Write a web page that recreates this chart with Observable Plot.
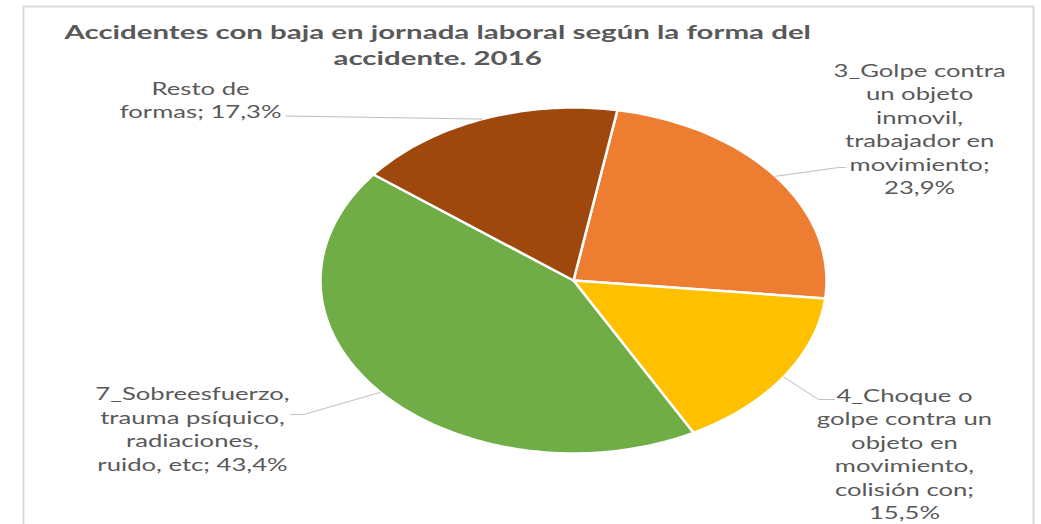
<!DOCTYPE html>
<html>
<head>
<meta charset="utf-8">
<script src="https://cdn.jsdelivr.net/npm/d3@7"></script>
<script src="https://cdn.jsdelivr.net/npm/@observablehq/plot@0.6"></script>
<style>
  html, body { margin: 0; padding: 0; background: #ffffff; overflow: hidden; }
</style>
</head>
<body>
<div id="chart"></div>
<script>
// ---- data ----
const titleText = "Accidentes con baja en jornada laboral según la forma del\naccidente. 2016";
const categories = [
  "3_Golpe contra\nun objeto\ninmovil,\ntrabajador en\nmovimiento",
  "4_Choque o\ngolpe contra un\nobjeto en\nmovimiento,\ncolisión con",
  "7_Sobreesfuerzo,\ntrauma psíquico,\nradiaciones,\nruido, etc",
  "Resto de\nformas"
];
const shares = [23.9, 15.5, 43.4, 17.3];
const valueSeparators = ["\n", "\n", " ", " "];
const colors = ["#ED7D31", "#FFC000", "#70AD47", "#9E480E"];

// ---- layout (in the pie's own data units: radius = 1) ----
const firstSliceAngle = 10; // degrees, clockwise from 12 o'clock
const labelLayout = [
  {tx: 1.368, ty: 0.882, ex: 1.047, ey: 0.653, lx: 1.075, ly: 0.653},
  {tx: 1.308, ty: -0.997, ex: 0.968, ey: -0.688, lx: 1.032, ly: -0.688},
  {tx: -1.506, ty: -0.853, ex: -1.067, ey: -0.775, lx: -1.119, ly: -0.775},
  {tx: -1.474, ty: 1.049, ex: -1.138, ey: 0.951, lx: -1.138, ly: 0.951}
];
const titlePos = {x: -0.538, y: 1.368};
const labelStretch = 1.51;
const titleStretch = 1.55;

// ---- build geometry from data ----
const fmt = v => v.toFixed(1).replace(".", ",") + "%";
const a0 = firstSliceAngle * Math.PI / 180;
const arcs = d3.pie().sort(null).startAngle(a0).endAngle(a0 + 2 * Math.PI)(shares);

const slicePts = [];
arcs.forEach((arc, i) => {
  const n = Math.max(8, Math.ceil((arc.endAngle - arc.startAngle) / (2 * Math.PI) * 360));
  slicePts.push({slice: categories[i], x: 0, y: 0});
  for (let k = 0; k <= n; ++k) {
    const a = arc.startAngle + (arc.endAngle - arc.startAngle) * k / n;
    slicePts.push({slice: categories[i], x: Math.sin(a), y: Math.cos(a)});
  }
  slicePts.push({slice: categories[i], x: 0, y: 0});
});

const leaderPts = [];
const labels = [];
arcs.forEach((arc, i) => {
  const m = (arc.startAngle + arc.endAngle) / 2;
  const L = labelLayout[i];
  leaderPts.push({k: i, x: Math.sin(m), y: Math.cos(m)});
  leaderPts.push({k: i, x: L.ex, y: L.ey});
  leaderPts.push({k: i, x: L.lx, y: L.ly});
  labels.push({x: L.tx, y: L.ty, text: categories[i] + ";" + valueSeparators[i] + fmt(shares[i])});
});

const chart = Plot.plot({
  width: 1041,
  height: 524,
  marginLeft: 23,
  marginRight: 8,
  marginTop: 6,
  marginBottom: 0,
  style: {fontFamily: "Lato, 'Open Sans', sans-serif", background: "#ffffff"},
  x: {domain: [-1, 1], range: [320, 826], axis: null},
  y: {domain: [-1, 1], range: [453, 107], axis: null},
  color: {domain: categories, range: colors, legend: false},
  marks: [
    Plot.frame({stroke: "#D9D9D9", strokeWidth: 2, insetBottom: -6}),
    Plot.line(slicePts, {x: "x", y: "y", z: "slice", fill: "slice", stroke: "#ffffff", strokeWidth: 2.5, strokeLinejoin: "round"}),
    Plot.line(leaderPts, {x: "x", y: "y", z: "k", stroke: "#BFBFBF", strokeWidth: 1}),
    Plot.text(labels, {x: "x", y: "y", text: "text", fill: "#595959", fontSize: 17, lineHeight: 1.38, textAnchor: "middle", className: "slice-label"}),
    Plot.text([titleText], {x: titlePos.x, y: titlePos.y, text: d => d, fill: "#595959", fontSize: 19, fontWeight: "bold", lineHeight: 1.34, textAnchor: "middle", className: "chart-title"})
  ]
});

document.getElementById("chart").appendChild(chart);

// Horizontal stretch of the texts (the reference is horizontally stretched)
function stretch(selector, s) {
  chart.querySelectorAll(selector).forEach(t => {
    const b = t.getBBox();
    const cx = b.x + b.width / 2;
    const tr = t.getAttribute("transform") || "";
    t.setAttribute("transform", `${tr} translate(${cx},0) scale(${s},1) translate(${-cx},0)`);
  });
}
stretch(".slice-label text", labelStretch);
stretch(".chart-title text", titleStretch);
</script>
</body>
</html>
